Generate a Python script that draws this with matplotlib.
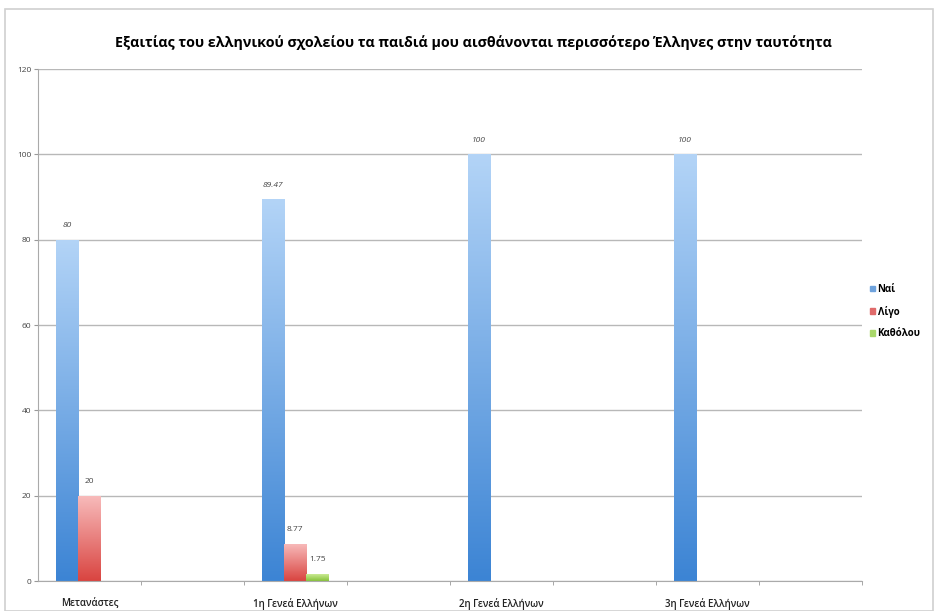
import numpy as np
import matplotlib.pyplot as plt
from matplotlib.colors import LinearSegmentedColormap
from matplotlib.patches import Rectangle

# data
categories = ["Μετανάστες", "1η Γενεά Ελλήνων", "2η Γενεά Ελλήνων", "3η Γενεά Ελλήνων"]
series_names = ["Ναί", "Λίγο", "Καθόλου"]
nai = [80, 89.47, 100, 100]
ligo = [20, 8.77, 0, 0]
katholou = [0, 1.75, 0, 0]
title = "Εξαιτίας του ελληνικού σχολείου τα παιδιά μου αισθάνονται περισσότερο Έλληνες στην ταυτότητα"

# (top colour, bottom colour) for the gradient fill
colors = [("#b3d4f7", "#3c84d4"), ("#f8bcbc", "#d94440"), ("#d4f0a0", "#86c23a")]
legend_colors = ["#6fa3dd", "#e06a6a", "#a9d86a"]

plt.rcParams['font.family'] = ['Open Sans', 'DejaVu Sans']

fig = plt.figure(figsize=(9.38, 6.11), dpi=100)
fig.patches.append(Rectangle((0.005, 0.0), 0.99, 0.985, transform=fig.transFigure,
                             fill=False, edgecolor="#d0d0d0", linewidth=1.2))
ax = fig.add_axes([0.0405, 0.049, 0.878, 0.838])

# every category takes two slots, the second one stays empty
x = np.arange(len(categories)) * 2.0
w = 0.214
values = [nai, ligo, katholou]
handles = []
for i, (vals, (ctop, cbot)) in enumerate(zip(values, colors)):
    pos = x - w + i * w
    bars = ax.bar(pos, vals, width=w, color=cbot, linewidth=0, zorder=2)
    cmap = LinearSegmentedColormap.from_list("g%d" % i, [cbot, ctop])
    grad = np.linspace(0, 1, 256).reshape(-1, 1)
    for b, v in zip(bars, vals):
        if v <= 0:
            continue
        im = ax.imshow(grad, cmap=cmap, origin="lower", aspect="auto",
                       extent=[b.get_x(), b.get_x() + w, 0, v], zorder=2.5)
        im.set_clip_path(b)
        ax.text(b.get_x() + w / 2, v + 2.5, "%g" % v, ha="center", va="bottom",
                fontsize=6, color="#444444", style="italic" if i == 0 else "normal")
    handles.append(Rectangle((0, 0), 1, 1, color=legend_colors[i]))

ax.set_xlim(-0.5, 7.5)
ax.set_ylim(0, 120)
ax.set_yticks(np.arange(0, 121, 20))
ax.tick_params(axis="y", labelsize=6, length=3, color="#999999", labelcolor="#444444", pad=2)
ax.set_xticks(x)
ax.set_xticklabels(categories, fontsize=7, color="#222222", weight="semibold")
ax.tick_params(axis="x", length=0, pad=12)
ax.set_xticks(np.arange(0.5, 7.6, 1.0), minor=True)
ax.tick_params(axis="x", which="minor", length=3, color="#999999")
ax.grid(axis="y", color="#b8b8b8", linewidth=1.0, zorder=0)
ax.set_axisbelow(True)
for s in ["top", "right"]:
    ax.spines[s].set_visible(False)
ax.spines["left"].set_color("#aaaaaa")
ax.spines["bottom"].set_color("#aaaaaa")

fig.text(0.505, 0.93, title, ha="center", va="center", fontsize=10.3, weight="bold")

fig.legend(handles, series_names, loc="center left", bbox_to_anchor=(0.918, 0.49),
           frameon=False, handlelength=0.5, handleheight=0.5,
           handletextpad=0.3, labelspacing=1.1, prop={"weight": "bold", "size": 7})

fig.savefig("out.png", dpi=100)
